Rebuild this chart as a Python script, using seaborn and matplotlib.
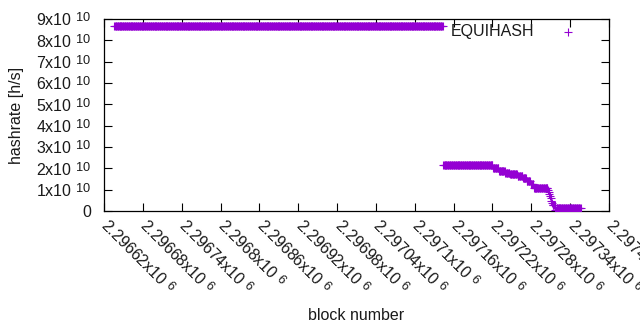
import numpy as np
import pandas as pd
import matplotlib
matplotlib.use("Agg")
import matplotlib.pyplot as plt
import matplotlib._mathtext as _mt
import seaborn as sns

# ---- data (run-length encoded: each run is a block range with constant hashrate) ----
run_first_block = [2296636, 2297144, 2297221, 2297230, 2297240, 2297247, 2297259,
                   2297267, 2297273, 2297279, 2297284, 2297306, 2297307, 2297308,
                   2297309, 2297310, 2297311, 2297312, 2297313, 2297317, 2297319]
run_last_block = [2297143, 2297220, 2297229, 2297239, 2297246, 2297258, 2297266,
                  2297272, 2297278, 2297283, 2297305, 2297306, 2297307, 2297308,
                  2297309, 2297310, 2297311, 2297312, 2297316, 2297318, 2297356]
run_hashrate = [8.65e10, 2.17e10, 2.02e10, 1.86e10, 1.78e10, 1.72e10, 1.64e10,
                1.53e10, 1.41e10, 1.27e10, 1.07e10, 0.97e10, 0.90e10, 0.80e10,
                0.70e10, 0.60e10, 0.48e10, 0.39e10, 0.28e10, 0.05e10, 0.16e10]

series_name = "EQUIHASH"
x_ticks = [2296620, 2296680, 2296740, 2296800, 2296860, 2296920, 2296980,
           2297040, 2297100, 2297160, 2297220, 2297280, 2297340, 2297400]
x_tick_mantissa = ["2.29662", "2.29668", "2.29674", "2.2968", "2.29686", "2.29692",
                   "2.29698", "2.29704", "2.2971", "2.29716", "2.29722", "2.29728",
                   "2.29734", "2.2974"]
y_ticks = [0, 1e10, 2e10, 3e10, 4e10, 5e10, 6e10, 7e10, 8e10, 9e10]
y_tick_mantissa = ["0", "1", "2", "3", "4", "5", "6", "7", "8", "9"]

# expand runs into one point per block
blocks, rates = [], []
for a, b, v in zip(run_first_block, run_last_block, run_hashrate):
    for blk in range(a, b + 1):
        blocks.append(blk)
        rates.append(v)
df = pd.DataFrame({"block": blocks, "hashrate": rates})

# gnuplot-like superscripts: larger and less raised than mathtext default
_mt.SHRINK_FACTOR = 0.8
_mt.FontConstantsBase.sup1 = 0.45

# ---- style ----
sns.set_style("ticks")
plt.rcParams["font.family"] = ["Liberation Sans", "DejaVu Sans"]
plt.rcParams["mathtext.fontset"] = "custom"
plt.rcParams["mathtext.rm"] = "Liberation Sans"
plt.rcParams["mathtext.it"] = "Liberation Sans"
plt.rcParams["mathtext.bf"] = "Liberation Sans"
plt.rcParams["mathtext.default"] = "regular"
FS = 11.5
TXT = "#1a1a1a"
W, H = 640, 330
fig = plt.figure(figsize=(W / 100, H / 100), dpi=100)
L, R, T, B = 104, 609, 19, 211
ax = fig.add_axes([L / W, 1 - B / H, (R - L) / W, (B - T) / H])

color = "#9400d3"
sns.scatterplot(data=df, x="block", y="hashrate", marker="+", s=26,
                color=color, linewidth=0.8, ax=ax, label=series_name, zorder=3)

ax.set_xlim(2296620, 2297400)
ax.set_ylim(0, 9e10)

xlabels = [m + r"x10 $^{6}$" for m in x_tick_mantissa]
ax.set_xticks(x_ticks)
ax.set_xticklabels(xlabels, rotation=-45, ha="left", va="center",
                   rotation_mode="anchor", fontsize=FS)
ylabels = [m if m == "0" else m + r"x10 $^{10}$" for m in y_tick_mantissa]
ax.set_yticks(y_ticks)
ax.set_yticklabels(ylabels, fontsize=FS)

ax.tick_params(axis="both", direction="in", length=6, width=0.8, color="black",
               top=True, right=True, labelcolor=TXT)
ax.tick_params(axis="x", pad=8.5)
ax.tick_params(axis="y", pad=9.4)
for s in ax.spines.values():
    s.set_visible(True)
    s.set_linewidth(0.9)
    s.set_color("black")

ax.set_xlabel("block number", fontsize=FS, color=TXT)
ax.set_ylabel("hashrate [h/s]", fontsize=FS, color=TXT)
ax.xaxis.set_label_coords(0.5, (B - 308) / (B - T))
ax.yaxis.set_label_coords((24 - L) / (R - L), 0.5)

leg = ax.legend(loc="center right", bbox_to_anchor=(584 / W, 1 - 31.5 / H),
                bbox_transform=fig.transFigure, frameon=False, markerfirst=False,
                fontsize=FS, borderpad=0, borderaxespad=0, handlelength=2.0,
                handletextpad=1.1, markerscale=1.0)
for t in leg.get_texts():
    t.set_color(TXT)
for h in leg.legend_handles:
    h.set_color(color)
    h.set_edgecolor(color)

fig.savefig("out.png", dpi=100)
